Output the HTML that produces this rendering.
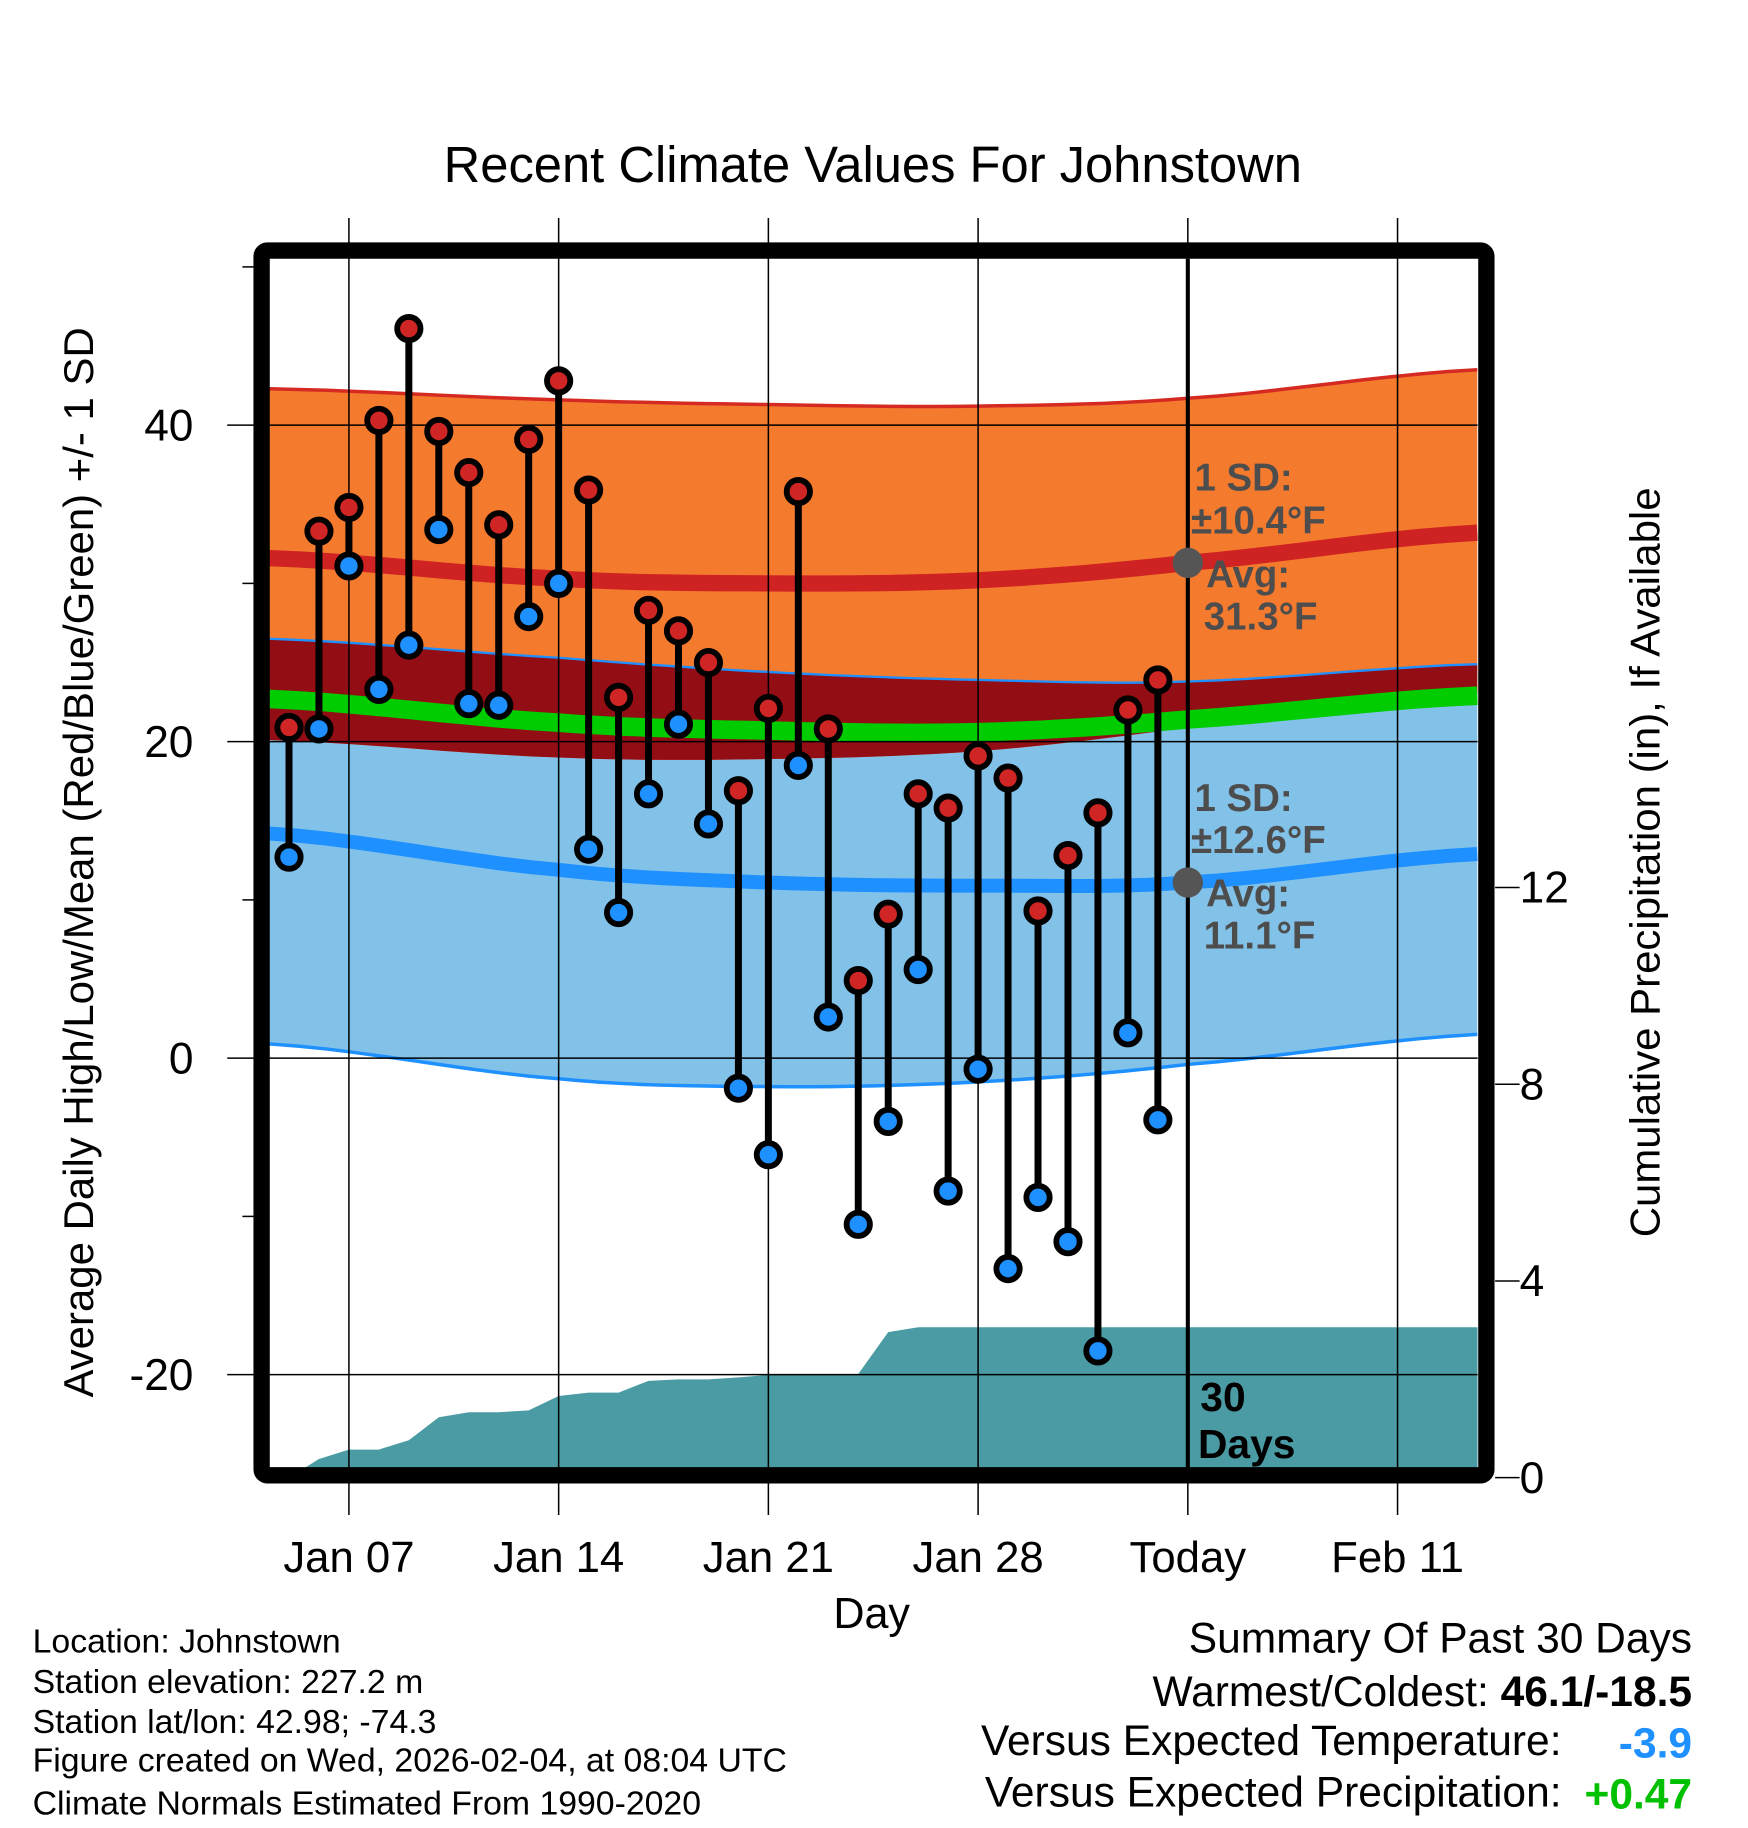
<!DOCTYPE html>
<html><head><meta charset="utf-8"><style>
html,body{margin:0;padding:0;background:#fff;}
svg{display:block;font-family:"Liberation Sans",Arial,sans-serif;}
</style></head><body>
<svg id="chart" width="1748" height="1828" viewBox="0 0 1500 1568.6" xmlns="http://www.w3.org/2000/svg"></svg>
<script>
// ---- data ----
const days = ["Jan 05","Jan 06","Jan 07","Jan 08","Jan 09","Jan 10","Jan 11","Jan 12","Jan 13","Jan 14","Jan 15","Jan 16","Jan 17","Jan 18","Jan 19","Jan 20","Jan 21","Jan 22","Jan 23","Jan 24","Jan 25","Jan 26","Jan 27","Jan 28","Jan 29","Jan 30","Jan 31","Feb 01","Feb 02","Feb 03"];
const highs = [20.9,33.3,34.8,40.3,46.1,39.6,37.0,33.7,39.1,42.8,35.9,22.8,28.3,27.0,25.0,16.9,22.1,35.8,20.8,4.9,9.1,16.7,15.8,19.1,17.7,9.3,12.8,15.5,22.0,23.9];
const lows = [12.7,20.8,31.1,23.3,26.1,33.4,22.4,22.3,27.9,30.0,13.2,9.2,16.7,21.1,14.8,-1.9,-6.1,18.5,2.6,-10.5,-4.0,5.6,-8.4,-0.7,-13.3,-8.8,-11.6,-18.5,1.6,-3.9];
const precip = [0.0,0.38,0.57,0.57,0.76,1.23,1.33,1.33,1.37,1.66,1.73,1.73,1.97,2.0,2.0,2.04,2.09,2.11,2.11,2.11,2.96,3.06,3.06,3.06,3.06,3.06,3.06,3.06,3.06,3.06];
const normDays = [-0.66,9,16,23,30,39.66];
const highPlusSD = [42.3,41.6,41.3,41.2,41.7,43.5];
const highMean = [31.6,30.3,30.0,30.2,31.3,33.2];
const highMinusSD = [20.1,19.0,18.9,19.4,20.9,23.0];
const lowPlusSD = [26.5,25.3,24.4,23.9,23.8,24.9];
const meanTemp = [22.7,21.2,20.7,20.6,21.4,22.9];
const lowMean = [14.2,11.9,11.1,10.9,11.1,12.9];
const lowMinusSD = [0.9,-1.3,-1.8,-1.5,-0.4,1.5];
const yTicks = [40,20,0,-20];
const yMinor = [50,30,10,-10];
const pTicks = [0,4,8,12];
const xTickLabels = ["Jan 07","Jan 14","Jan 21","Jan 28","Today","Feb 11"];
const xTickDays = [2,9,16,23,30,37];

// ---- scales ----
const X = d => 248 + d*25.71;
const Y = v => 908 - v*13.58;
const P = v => 1268 - v*42.2;
const L=231,R=1268,T=222,B=1260;
const NS="http://www.w3.org/2000/svg";
const svg=document.getElementById('chart');
function el(tag,attrs,parent){const e=document.createElementNS(NS,tag);for(const k in attrs)e.setAttribute(k,attrs[k]);(parent||svg).appendChild(e);return e;}
function txt(s,attrs,parent){const e=el('text',attrs,parent);e.textContent=s;return e;}

function curvePts(arr){
  const pts=[];
  for(let i=0;i<arr.length-1;i++){
    const p0=arr[Math.max(i-1,0)],p1=arr[i],p2=arr[i+1],p3=arr[Math.min(i+2,arr.length-1)];
    const d0=normDays[i],d1=normDays[i+1];
    for(let s=0;s<10;s++){const t=s/10;
      const v=0.5*((2*p1)+(-p0+p2)*t+(2*p0-5*p1+4*p2-p3)*t*t+(-p0+3*p1-3*p2+p3)*t*t*t);
      pts.push([X(d0+(d1-d0)*t),Y(v)]);}
  }
  pts.push([X(normDays[normDays.length-1]),Y(arr[arr.length-1])]);
  return pts;
}
function band(top,bot,fill,name){
  const a=curvePts(top),b=curvePts(bot).reverse();
  const p=el('path',{d:'M'+a.concat(b).map(q=>q[0].toFixed(1)+','+q[1].toFixed(1)).join('L')+'Z',fill:fill,'clip-path':'url(#plotclip)'});
  
  
  return p;
}
function line(arr,color,w,name){
  const p=el('polyline',{points:curvePts(arr).map(q=>q[0].toFixed(1)+','+q[1].toFixed(1)).join(' '),fill:'none',stroke:color,'stroke-width':w,'clip-path':'url(#plotclip)'});
  
  
}
const defs=el('defs',{});
const cp=el('clipPath',{id:'plotclip'},defs);
el('rect',{x:L,y:T,width:R-L,height:B-T},cp);

const title=txt('Recent Climate Values For Johnstown',{x:749,y:156,'font-size':43.5,'text-anchor':'middle'});



band(lowPlusSD,lowMinusSD,'#82c1e8','low-sd-band');
band(highPlusSD,highMinusSD,'#f47a2e','high-sd-band');
band(lowPlusSD,highMinusSD,'#920d14','overlap-band');
line(highPlusSD,'#d42a22',3,'high-sd-upper-line');
line(lowPlusSD,'#1e90ff',2,'low-sd-upper-line');
line(lowMinusSD,'#1e90ff',3,'low-sd-lower-line');
line(meanTemp,'#00cc00',16,'mean-normal-line');
line(highMean,'#cf2222',14,'high-normal-line');
line(lowMean,'#1e90ff',12,'low-normal-line');

{
  const pts=[[X(0),P(0)]];
  precip.forEach((v,i)=>pts.push([X(i),P(v)]));
  pts.push([R,P(precip[precip.length-1])],[R,P(0)]);
  const a=el('polygon',{points:pts.map(q=>q[0].toFixed(1)+','+q[1].toFixed(1)).join(' '),fill:'#4a9ba3','clip-path':'url(#plotclip)'});
  
  
}

yTicks.forEach(v=>{const g=el('line',{x1:L,x2:R,y1:Y(v),y2:Y(v),stroke:'#000','stroke-width':1.3});
  
  });
xTickDays.forEach(d=>{const g=el('line',{x1:X(d),x2:X(d),y1:187,y2:1300,stroke:'#000','stroke-width':1.3});
  
  });

const tl=el('line',{x1:X(30),x2:X(30),y1:T,y2:B,stroke:'#000','stroke-width':3.5});



days.forEach((d,i)=>{
  const g=el('g',{});
  
  
  el('line',{x1:X(i),x2:X(i),y1:Y(highs[i]),y2:Y(lows[i]),stroke:'#000','stroke-width':6},g);
  const hc=el('circle',{cx:X(i),cy:Y(highs[i]),r:10,fill:'#d02525',stroke:'#000','stroke-width':5},g);
  
  
  const lc=el('circle',{cx:X(i),cy:Y(lows[i]),r:10,fill:'#1e90ff',stroke:'#000','stroke-width':5},g);
  
  
});

const d1=el('circle',{cx:X(30),cy:Y(31.3),r:13,fill:'#555'});


const d2=el('circle',{cx:X(30),cy:Y(11.1),r:13,fill:'#555'});


const ann=[['1 SD:',1025,421],['±10.4°F',1022,458],['Avg:',1035,504],['31.3°F',1033,540],['1 SD:',1025,696],['±12.6°F',1022,732],['Avg:',1035,778],['11.1°F',1033,814]];
ann.forEach(a=>{const t=txt(a[0],{x:a[1],y:a[2],'font-size':33,'font-weight':'bold',fill:'#4d4d4d'});
  
  });
const t30=txt('30',{x:1030,y:1211,'font-size':35,'font-weight':'bold'});


const tdays=txt('Days',{x:1028,y:1251,'font-size':35,'font-weight':'bold'});



const fr=el('rect',{x:224.5,y:215,width:1051,height:1051,fill:'none',stroke:'#000','stroke-width':14,rx:5});



yTicks.forEach(v=>{el('line',{x1:195,x2:218,y1:Y(v),y2:Y(v),stroke:'#000','stroke-width':1.3});
  const t=txt(String(v),{x:166,y:Y(v)+13,'font-size':38,'text-anchor':'end'});
  
  });
yMinor.forEach(v=>el('line',{x1:208,x2:218,y1:Y(v),y2:Y(v),stroke:'#000','stroke-width':1.3}));
pTicks.forEach(v=>{el('line',{x1:1283,x2:1304,y1:P(v),y2:P(v),stroke:'#000','stroke-width':1.3});
  const t=txt(String(v),{x:1304,y:P(v)+13,'font-size':38});
  
  });
xTickLabels.forEach((s,i)=>{const t=txt(s,{x:X(xTickDays[i]),y:1349,'font-size':37.5,'text-anchor':'middle'});
  
  });
const xt=txt('Day',{x:748,y:1397,'font-size':37,'text-anchor':'middle'});


const yt=txt('Average Daily High/Low/Mean (Red/Blue/Green) +/- 1 SD',{x:0,y:0,'font-size':36,'text-anchor':'middle',transform:'translate(80,740) rotate(-90)'});


const yr=txt('Cumulative Precipitation (in), If Available',{x:0,y:0,'font-size':36,'text-anchor':'middle',transform:'translate(1424,740) rotate(-90)'});



['Location: Johnstown','Station elevation: 227.2 m','Station lat/lon: 42.98; -74.3','Figure created on Wed, 2026-02-04, at 08:04 UTC','Climate Normals Estimated From 1990-2020'].forEach((s,i)=>{
  const t=txt(s,{x:28,y:[1418,1453,1487,1520,1557][i],'font-size':29});
  
  });
const s1=txt('Summary Of Past 30 Days',{x:1452,y:1418,'font-size':36.5,'text-anchor':'end'});


const s2=el('text',{x:1452,y:1464,'font-size':36.5,'text-anchor':'end'});


s2.innerHTML='Warmest/Coldest: <tspan font-weight="bold">46.1/-18.5</tspan>';
const s3=txt('Versus Expected Temperature:',{x:1340,y:1506,'font-size':36.5,'text-anchor':'end'});


const s4=txt('-3.9',{x:1452,y:1508,'font-size':36.5,'text-anchor':'end','font-weight':'bold',fill:'#1e90ff'});


const s5=txt('Versus Expected Precipitation:',{x:1340,y:1550,'font-size':36.5,'text-anchor':'end'});


const s6=txt('+0.47',{x:1452,y:1552,'font-size':36.5,'text-anchor':'end','font-weight':'bold',fill:'#00c000'});


</script>
</body></html>
